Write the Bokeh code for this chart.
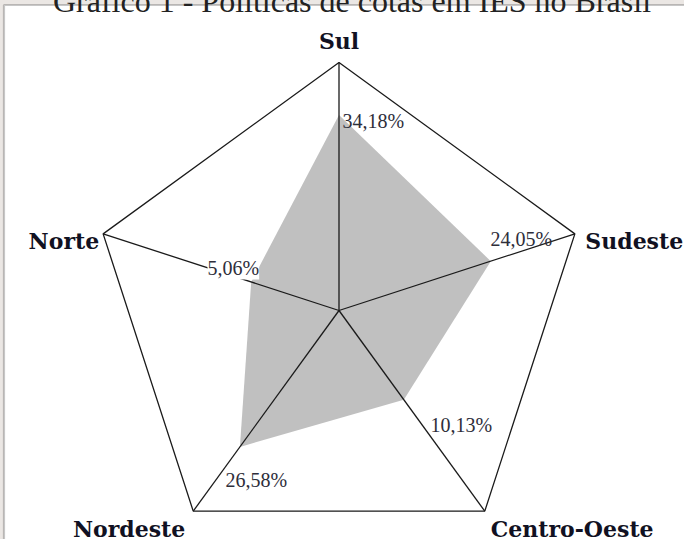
import numpy as np
from bokeh.plotting import figure
from bokeh.models import Range1d, BoxAnnotation, ColumnDataSource
from bokeh.core.properties import value
from bokeh.embed import file_html
from bokeh.resources import INLINE

# ---- data ----
title_text = "Gráfico 1 - Políticas de cotas em IES no Brasil"
categories = ["Sul", "Sudeste", "Centro-Oeste", "Nordeste", "Norte"]
values = [34.18, 24.05, 10.13, 26.58, 5.06]
value_labels = ["34,18%", "24,05%", "10,13%", "26,58%", "5,06%"]
r_min, r_max = -21.0, 49.0   # radial axis range

# ---- layout ----
W, H = 692, 547
cx, cy, R = 346.5, 318.0, 248.0
n = len(categories)
ang = np.deg2rad(90 - 72 * np.arange(n))
vx = cx + R * np.cos(ang)
vy = cy - R * np.sin(ang)

frac = (np.array(values) - r_min) / (r_max - r_min)
px = cx + R * frac * np.cos(ang)
py = cy - R * frac * np.sin(ang)

cat_dx = [0, 10.5, 6, -8, -4]
cat_dy = [-22, 7, 17.4, 17.4, 7.6]
cat_align = ["center", "left", "left", "right", "right"]
val_dx = [3.5, -0.3, 26.7, -14.4, -43.7]
val_dy = [5.5, -21.7, 24.8, 33.6, -13.5]
val_bg = ["rgba(0,0,0,0)", "rgba(0,0,0,0)", "rgba(0,0,0,0)", "rgba(0,0,0,0)", "white"]

p = figure(width=W, height=H, x_range=Range1d(0, W), y_range=Range1d(H, 0),
           output_backend="svg", toolbar_location=None, min_border=0,
           background_fill_color="#ebe7e4", border_fill_color="#ebe7e4",
           outline_line_color=None)
p.axis.visible = False
p.grid.visible = False
p.styles = {"margin-left": "-8px", "margin-top": "-8px"}

# frame
p.add_layout(BoxAnnotation(left=11.5, right=760, top=12.5, bottom=620,
                           fill_color="white", fill_alpha=1.0,
                           line_color="#444444", line_width=2.2, level="underlay"))

# title (partly cut at top)
p.text(x=[359.5], y=[8], text=[title_text], text_font=value("Liberation Serif"),
       text_font_size="32px", text_color="#222222", text_align="center",
       text_baseline="alphabetic")

# data polygon
p.patch(list(px), list(py), fill_color="#c0c0c0", line_color=None)

# spokes
p.segment(x0=[cx] * n, y0=[cy] * n, x1=list(vx), y1=list(vy),
          line_color="#1a1a1a", line_width=1.3)
# outer pentagon
p.patch(list(vx), list(vy), fill_color=None, line_color="#1a1a1a", line_width=1.3)

# category labels
cat_src = ColumnDataSource(dict(
    x=list(vx + np.array(cat_dx)), y=list(vy + np.array(cat_dy)),
    text=categories, align=cat_align))
p.text(x="x", y="y", text="text", text_align="align", source=cat_src,
       text_font=value("DejaVu Serif"), text_font_style="bold",
       text_font_size="22px", text_color="#111122", text_baseline="alphabetic")

# value labels
val_src = ColumnDataSource(dict(
    x=list(px + np.array(val_dx)), y=list(py + np.array(val_dy)),
    text=value_labels, bg=val_bg))
p.text(x="x", y="y", text="text", source=val_src,
       text_font=value("Liberation Serif"), text_font_size="20px",
       text_color="#2e2e3a", text_align="left", text_baseline="alphabetic",
       background_fill_color="bg")

open("out.html", "w").write(file_html(p, INLINE))
